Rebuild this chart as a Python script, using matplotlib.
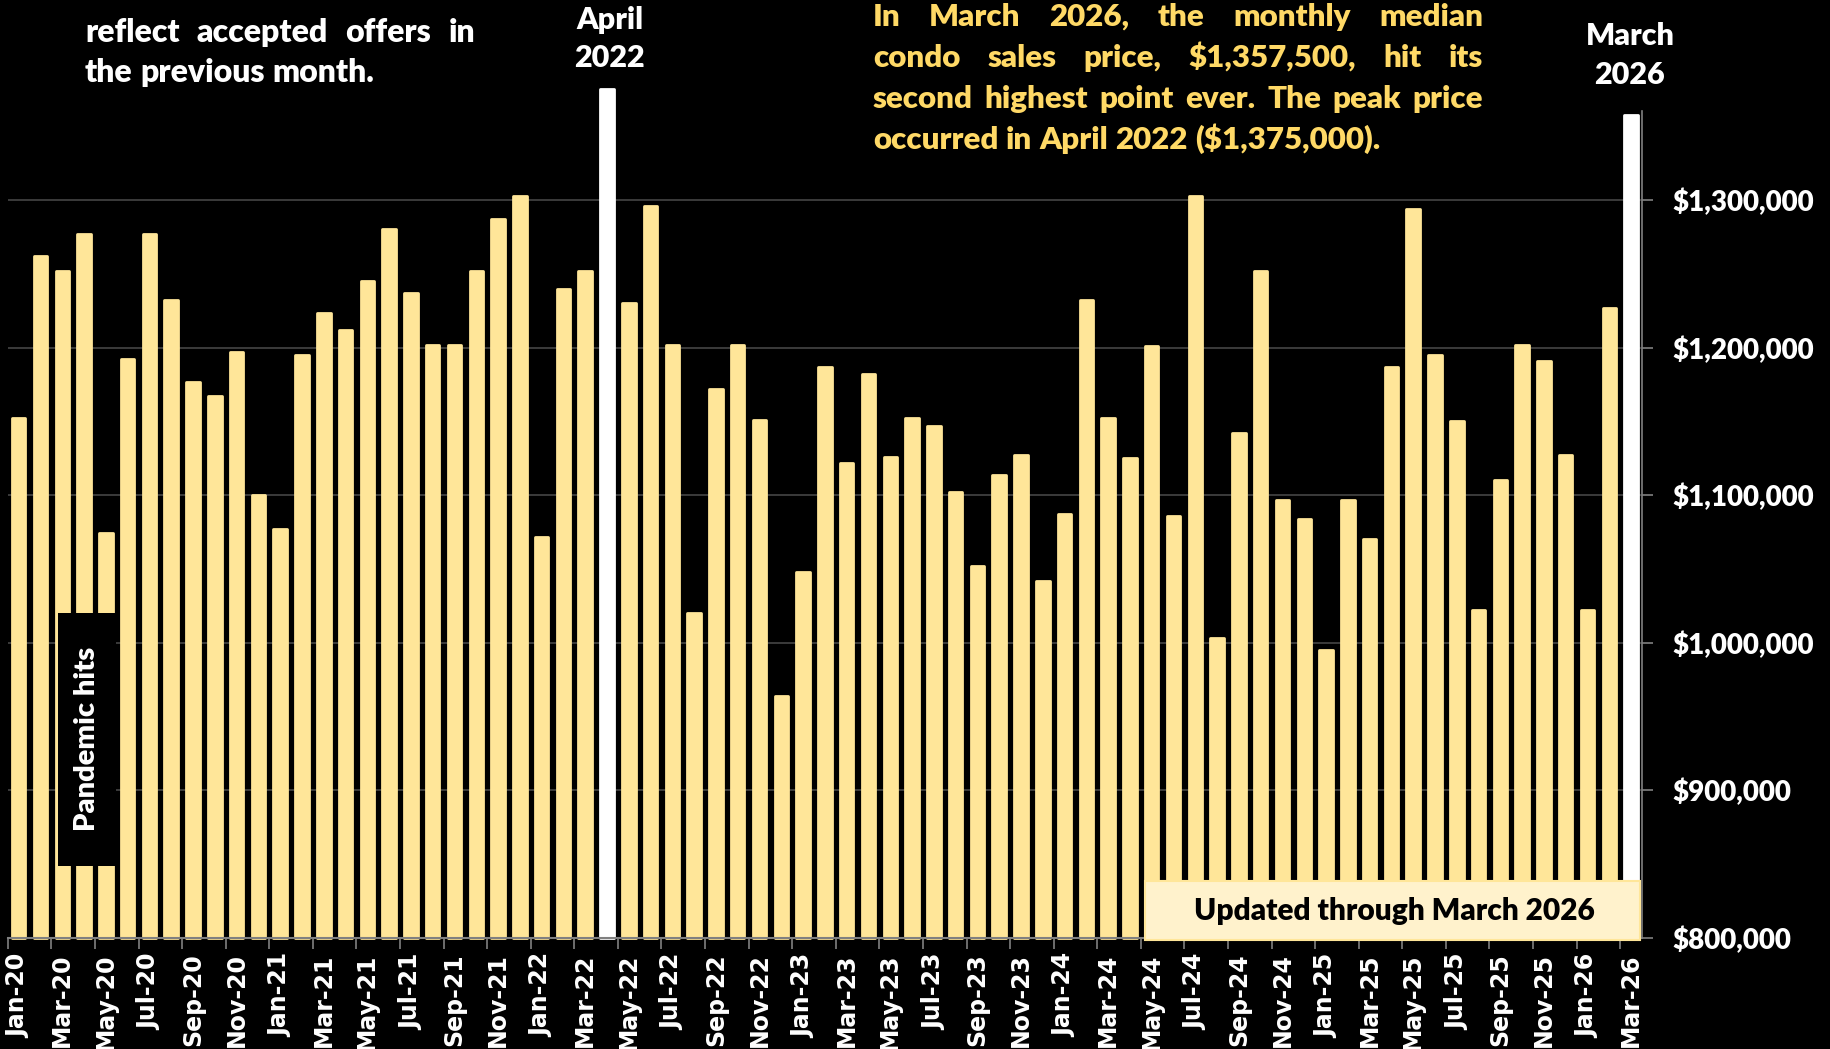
import matplotlib
matplotlib.use("Agg")
import matplotlib.pyplot as plt
from matplotlib.patches import Rectangle
from matplotlib.ticker import FuncFormatter, FixedLocator

# ---------------- data ----------------
months = [
    "Jan-20", "Feb-20", "Mar-20", "Apr-20", "May-20", "Jun-20", "Jul-20", "Aug-20", "Sep-20", "Oct-20", "Nov-20", "Dec-20",
    "Jan-21", "Feb-21", "Mar-21", "Apr-21", "May-21", "Jun-21", "Jul-21", "Aug-21", "Sep-21", "Oct-21", "Nov-21", "Dec-21",
    "Jan-22", "Feb-22", "Mar-22", "Apr-22", "May-22", "Jun-22", "Jul-22", "Aug-22", "Sep-22", "Oct-22", "Nov-22", "Dec-22",
    "Jan-23", "Feb-23", "Mar-23", "Apr-23", "May-23", "Jun-23", "Jul-23", "Aug-23", "Sep-23", "Oct-23", "Nov-23", "Dec-23",
    "Jan-24", "Feb-24", "Mar-24", "Apr-24", "May-24", "Jun-24", "Jul-24", "Aug-24", "Sep-24", "Oct-24", "Nov-24", "Dec-24",
    "Jan-25", "Feb-25", "Mar-25", "Apr-25", "May-25", "Jun-25", "Jul-25", "Aug-25", "Sep-25", "Oct-25", "Nov-25", "Dec-25",
    "Jan-26", "Feb-26", "Mar-26",
]
median_price = [
    1152000, 1262000, 1252000, 1277000, 1074500, 1192000, 1277000, 1232000, 1177000, 1167000, 1197000, 1100000,
    1077000, 1195000, 1223500, 1212000, 1245000, 1280000, 1237000, 1202000, 1202000, 1252000, 1287000, 1302500,
    1072000, 1240000, 1252000, 1375000, 1230000, 1296000, 1202000, 1020000, 1172000, 1202000, 1151000, 964000,
    1048000, 1187000, 1122000, 1182000, 1126000, 1152000, 1147000, 1102000, 1052000, 1114000, 1127000, 1042000,
    1087000, 1232000, 1152000, 1125000, 1201000, 1086000, 1302500, 1003000, 1142000, 1252000, 1097000, 1084000,
    995000, 1097000, 1070000, 1187000, 1294000, 1195000, 1150000, 1022000, 1110000, 1202000, 1191000, 1127000,
    1022000, 1227000, 1357500,
]
highlight_months = ["Apr-22", "Mar-26"]
y_ticks = [800000, 900000, 1000000, 1100000, 1200000, 1300000]
y_floor = 800000

note_left = ["reflect accepted offers in", "the previous month."]
note_right = [
    "In March 2026, the monthly median",
    "condo sales price, $1,357,500, hit its",
    "second highest point ever. The peak price",
    "occurred in April 2022 ($1,375,000).",
]

# ---------------- style ----------------
BAR = "#FFE699"
HL = "#FFFFFF"
GOLD = "#FFD966"
FONT = ["Lato", "DejaVu Sans"]
WT = "heavy"
TS = 22

W, H = 1831, 1049
fig = plt.figure(figsize=(W / 100, H / 100), dpi=100, facecolor="black")
ax = fig.add_axes([7.8 / W, 1 - 938 / H, (1642 - 7.8) / W, (938 - 111.4) / H])
ax.set_facecolor("black")

x = list(range(len(months)))
colors = [HL if m in highlight_months else BAR for m in months]
heights = [v - y_floor for v in median_price]
bars = ax.bar(x, heights, bottom=y_floor, width=0.62, color=colors, edgecolor=colors,
              linewidth=2.0, zorder=3, clip_on=False)
for b in bars:
    b.set_joinstyle("round")

ax.set_xlim(-0.5, len(months) - 0.5)
ax.set_ylim(y_floor, 1360000)

# y axis on right
ax.yaxis.tick_right()
ax.yaxis.set_major_locator(FixedLocator(y_ticks))
ax.yaxis.set_major_formatter(FuncFormatter(lambda v, p: f"${v:,.0f}"))
ax.tick_params(axis="y", colors="#808080", length=8, width=1.2, pad=14, labelsize=20, labelcolor="white")
for lab in ax.get_yticklabels():
    lab.set_fontfamily(FONT)
    lab.set_fontweight(WT)
ax.grid(axis="y", color="#404040", linewidth=1.3, zorder=0)
ax.set_axisbelow(True)

# x axis: ticks at boundaries every 2 categories, labels at even categories
ax.set_xticks([i - 0.5 for i in range(0, len(months) + 1, 2)])
ax.set_xticklabels([])
ax.set_xticks(x[::2], minor=True)
ax.set_xticklabels(months[::2], minor=True, rotation=90, fontsize=17,
                   fontweight="bold", color="white", fontfamily="DejaVu Sans")
ax.tick_params(axis="x", which="major", colors="#808080", length=8, width=1.2)
ax.tick_params(axis="x", which="minor", length=0, pad=11)

for s in ["left", "top"]:
    ax.spines[s].set_visible(False)
ax.spines["bottom"].set_color("#808080")
ax.spines["bottom"].set_linewidth(1.5)
ax.spines["bottom"].set_zorder(4)
ax.spines["right"].set_color("#808080")
ax.spines["right"].set_linewidth(1.2)

# ---------------- annotations ----------------
renderer = fig.canvas.get_renderer()


def justified(lines, x0, x1, baselines, color, size):
    probe = fig.text(0, 0, "a a", fontsize=size, fontweight=WT, fontfamily=FONT)
    probe2 = fig.text(0, 0, "aa", fontsize=size, fontweight=WT, fontfamily=FONT)
    space_w = probe.get_window_extent(renderer).width - probe2.get_window_extent(renderer).width
    probe.remove(); probe2.remove()
    for i, (line, yb) in enumerate(zip(lines, baselines)):
        words = line.split()
        texts = [fig.text(0, 0, w, color=color, fontsize=size, fontweight=WT,
                          fontfamily=FONT, va="baseline", ha="left") for w in words]
        widths = [t.get_window_extent(renderer).width for t in texts]
        if i == len(lines) - 1 or len(words) == 1:
            gap = space_w
        else:
            gap = (x1 - x0 - sum(widths)) / (len(words) - 1)
        cx = x0
        for t, w in zip(texts, widths):
            t.set_position((cx / W, 1 - yb / H))
            cx += w + gap


justified(note_left, 85, 475, [42, 82], "white", 23)
justified(note_right, 873, 1483, [26, 67, 108, 149], GOLD, 22.5)


def label(xp, yp, s, color="white", size=TS, **kw):
    return fig.text(xp / W, 1 - yp / H, s, color=color, fontsize=size, fontweight=WT,
                    fontfamily=FONT, ha="center", va="center", **kw)


label(609.5, 20, "April")
label(609.5, 58, "2022")
label(1630, 36, "March")
label(1630, 75, "2026")

# Pandemic hits box
fig.add_artist(Rectangle((58 / W, 1 - 866 / H), (116 - 58) / W, (866 - 613) / H,
                         transform=fig.transFigure, facecolor="black", edgecolor="none", zorder=5))
label(87.5, 739, "Pandemic hits", size=21, rotation=90, zorder=6)

# Updated box
fig.add_artist(Rectangle((1145 / W, 1 - 940 / H), (1640 - 1145) / W, (940 - 881) / H,
                         transform=fig.transFigure, facecolor="#FFF2CC", edgecolor=BAR,
                         linewidth=1.5, zorder=5))
label(1394, 911, "Updated through March 2026", color="black", size=21.5, zorder=6)

fig.savefig("out.png", dpi=100, facecolor="black")
